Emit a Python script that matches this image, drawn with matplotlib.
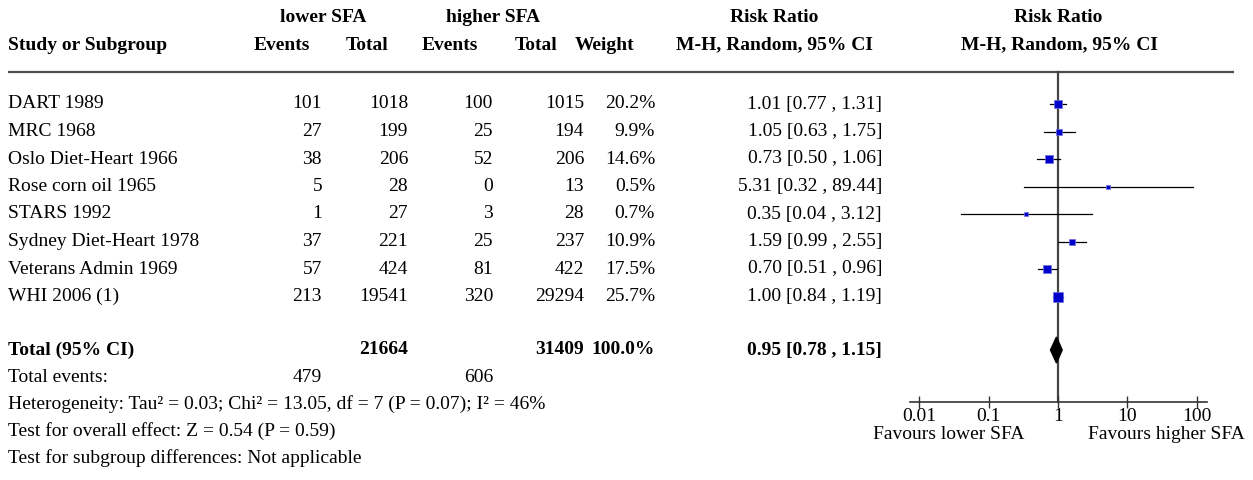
import numpy as np
import matplotlib
matplotlib.use("Agg")
import matplotlib.pyplot as plt
from matplotlib.patches import Polygon

plt.rcParams['font.family'] = ['Liberation Serif', 'DejaVu Serif']

studies = ["DART 1989", "MRC 1968", "Oslo Diet-Heart 1966", "Rose corn oil 1965",
           "STARS 1992", "Sydney Diet-Heart 1978", "Veterans Admin 1969", "WHI 2006 (1)"]
events_lo = [101, 27, 38, 5, 1, 37, 57, 213]
total_lo = [1018, 199, 206, 28, 27, 221, 424, 19541]
events_hi = [100, 25, 52, 0, 3, 25, 81, 320]
total_hi = [1015, 194, 206, 13, 28, 237, 422, 29294]
weights = [20.2, 9.9, 14.6, 0.5, 0.7, 10.9, 17.5, 25.7]
rr = [1.01, 1.05, 0.73, 5.31, 0.35, 1.59, 0.70, 1.00]
ci_lo = [0.77, 0.63, 0.50, 0.32, 0.04, 0.99, 0.51, 0.84]
ci_hi = [1.31, 1.75, 1.06, 89.44, 3.12, 2.55, 0.96, 1.19]
total_n_lo, total_n_hi = 21664, 31409
total_ev_lo, total_ev_hi = 479, 606
pooled_rr, pooled_lo, pooled_hi = 0.95, 0.78, 1.15
axis_ticks = [0.01, 0.1, 1, 10, 100]
axis_labels = ["0.01", "0.1", "1", "10", "100"]

W, H = 1253, 480
fig = plt.figure(figsize=(W / 100, H / 100), dpi=100)

# row geometry: row 0 at px 104, spacing 27.5 px
y0, dy = 104, 27.5
def row(px):
    return (px - y0) / dy
ytop, ybot = row(0), row(H)

ax = fig.add_axes([0, 0, 1, 1])
ax.set_xlim(0, W)
ax.set_ylim(ybot, ytop)
ax.axis('off')

FS = 14
HFS = 14
# column right edges (px)
c_ev_lo, c_tot_lo, c_ev_hi, c_tot_hi, c_w, c_ci = 322, 408, 493, 584, 655, 882

hdr = dict(fontsize=HFS, fontweight='bold', va='center')
r1, r2 = row(18), row(45)
ax.text(323, r1, "lower SFA", ha='center', **hdr)
ax.text(493, r1, "higher SFA", ha='center', **hdr)
ax.text(774, r1, "Risk Ratio", ha='center', **hdr)
ax.text(1058, r1, "Risk Ratio", ha='center', **hdr)
ax.text(8, r2, "Study or Subgroup", ha='left', **hdr)
ax.text(310, r2, "Events", ha='right', **hdr)
ax.text(388, r2, "Total", ha='right', **hdr)
ax.text(478, r2, "Events", ha='right', **hdr)
ax.text(557, r2, "Total", ha='right', **hdr)
ax.text(634, r2, "Weight", ha='right', **hdr)
ax.text(774, r2, "M-H, Random, 95% CI", ha='center', **hdr)
ax.text(1059, r2, "M-H, Random, 95% CI", ha='center', **hdr)

line_y = row(72)
ax.plot([8, 1234], [line_y, line_y], color='#4d4d4d', lw=1.6, solid_capstyle='butt')

body = dict(fontsize=FS, va='center')
for i, s in enumerate(studies):
    ax.text(8, i, s, ha='left', **body)
    ax.text(c_ev_lo, i, str(events_lo[i]), ha='right', **body)
    ax.text(c_tot_lo, i, str(total_lo[i]), ha='right', **body)
    ax.text(c_ev_hi, i, str(events_hi[i]), ha='right', **body)
    ax.text(c_tot_hi, i, str(total_hi[i]), ha='right', **body)
    ax.text(c_w, i, f"{weights[i]:.1f}%", ha='right', **body)
    ax.text(c_ci, i, f"{rr[i]:.2f} [{ci_lo[i]:.2f} , {ci_hi[i]:.2f}]", ha='right', **body)

rt = row(350)
b = dict(fontsize=FS, va='center', fontweight='bold')
ax.text(8, rt, "Total (95% CI)", ha='left', **b)
ax.text(c_tot_lo, rt, str(total_n_lo), ha='right', **b)
ax.text(c_tot_hi, rt, str(total_n_hi), ha='right', **b)
ax.text(c_w, rt, "100.0%", ha='right', **b)
ax.text(c_ci, rt, f"{pooled_rr:.2f} [{pooled_lo:.2f} , {pooled_hi:.2f}]", ha='right', **b)

ax.text(8, row(377), "Total events:", ha='left', **body)
ax.text(c_ev_lo, row(377), str(total_ev_lo), ha='right', **body)
ax.text(c_ev_hi, row(377), str(total_ev_hi), ha='right', **body)
ax.text(8, row(404), "Heterogeneity: Tau² = 0.03; Chi² = 13.05, df = 7 (P = 0.07); I² = 46%", ha='left', **body)
ax.text(8, row(431), "Test for overall effect: Z = 0.54 (P = 0.59)", ha='left', **body)
ax.text(8, row(458), "Test for subgroup differences: Not applicable", ha='left', **body)

# forest axes
x1px, dec = 1058, 69.4
L, R = 900, 1252
fa = fig.add_axes([L / W, 0, (R - L) / W, 1], sharey=ax)
fa.set_xscale('log')
fa.set_xlim(10 ** ((L - x1px) / dec), 10 ** ((R - x1px) / dec))
fa.patch.set_alpha(0)
for sp in ['top', 'left', 'right']:
    fa.spines[sp].set_visible(False)
axis_row = row(402)
fa.spines['bottom'].set_position(('data', axis_row))
fa.spines['bottom'].set_bounds(10 ** ((910 - x1px) / dec), 10 ** ((1207 - x1px) / dec))
fa.spines['bottom'].set_linewidth(1.2)
fa.spines['bottom'].set_color('#333333')
fa.set_xticks(axis_ticks)
fa.set_xticklabels(axis_labels, fontsize=FS)
fa.xaxis.set_minor_locator(matplotlib.ticker.NullLocator())
fa.tick_params(axis='x', direction='inout', length=9, width=1.0, color='#333333', pad=0)
fa.set_yticks([])
fa.set_ylim(ybot, ytop)

fa.plot([1, 1], [line_y, axis_row], color='#444444', lw=1.6, zorder=1)

for i in range(len(studies)):
    fa.plot([ci_lo[i], ci_hi[i]], [i, i], color='black', lw=0.9, zorder=2)
    ms = max(2.9, 1.42 * np.sqrt(weights[i]))
    fa.plot([rr[i]], [i], marker='s', ms=ms, color='#0000cc', mec='#6f6fe0', mew=0.5, zorder=3)

dh = 13 / dy
diamond = Polygon([[pooled_lo, rt], [pooled_rr, rt - dh], [pooled_hi, rt], [pooled_rr, rt + dh]],
                  closed=True, facecolor='black', edgecolor='black', zorder=4)
fa.add_patch(diamond)

ax.text(949, row(434), "Favours lower SFA", ha='center', **body)
ax.text(1166, row(434), "Favours higher SFA", ha='center', **body)

fig.savefig("out.png", dpi=100)
